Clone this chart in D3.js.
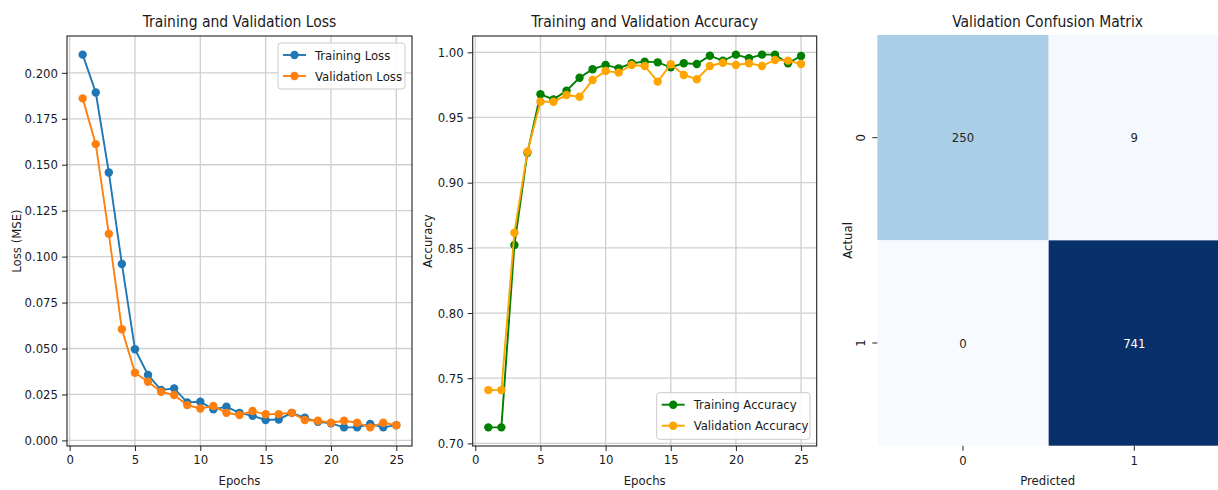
<!DOCTYPE html>
<html>
<head>
<meta charset="utf-8">
<script src="https://cdn.jsdelivr.net/npm/d3@7"></script>
<style>
  html, body { margin: 0; padding: 0; background: #ffffff; }
  svg { display: block; }
  text { font-family: 'DejaVu Sans Condensed', 'DejaVu Sans', sans-serif; fill: #1a1a1a; }
</style>
</head>
<body>
<svg id="chart" width="1218" height="490"></svg>
<script>
// ---------- data ----------
const epochs = [1,2,3,4,5,6,7,8,9,10,11,12,13,14,15,16,17,18,19,20,21,22,23,24,25];

const trainLoss = [0.2099, 0.1893, 0.1458, 0.0960, 0.0496, 0.0356, 0.0274, 0.0283, 0.0207, 0.0210,
                   0.0169, 0.0183, 0.0150, 0.0134, 0.0111, 0.0114, 0.0150, 0.0123, 0.0101, 0.0093,
                   0.0071, 0.0071, 0.0089, 0.0071, 0.0083];
const valLoss   = [0.1861, 0.1612, 0.1124, 0.0605, 0.0368, 0.0319, 0.0265, 0.0247, 0.0192, 0.0174,
                   0.0187, 0.0150, 0.0138, 0.0160, 0.0142, 0.0143, 0.0150, 0.0111, 0.0107, 0.0096,
                   0.0107, 0.0096, 0.0071, 0.0096, 0.0083];

const trainAcc  = [0.7123, 0.7123, 0.8522, 0.9230, 0.9678, 0.9639, 0.9705, 0.9805, 0.9870, 0.9903,
                   0.9877, 0.9916, 0.9928, 0.9923, 0.9885, 0.9916, 0.9910, 0.9974, 0.9935, 0.9982,
                   0.9954, 0.9982, 0.9982, 0.9916, 0.9972];
const valAcc    = [0.7409, 0.7409, 0.8616, 0.9237, 0.9621, 0.9621, 0.9672, 0.9659, 0.9787, 0.9857,
                   0.9844, 0.9903, 0.9895, 0.9775, 0.9908, 0.9826, 0.9793, 0.9895, 0.9920, 0.9903,
                   0.9916, 0.9895, 0.9941, 0.9936, 0.9910];

const epochTicks = [0, 5, 10, 15, 20, 25];
const lossTicks = [0.000, 0.025, 0.050, 0.075, 0.100, 0.125, 0.150, 0.175, 0.200];
const accTicks = [0.70, 0.75, 0.80, 0.85, 0.90, 0.95, 1.00];

const cmLabels = ["0", "1"];
const cmValues = [[250, 9], [0, 741]];

// ---------- drawing ----------
const svg = d3.select("#chart");
const GRID = "#cfcfcf";
const FONT = "'DejaVu Sans Condensed','DejaVu Sans',sans-serif";

function margined(arrs) {
  const all = arrs.flat();
  const lo = d3.min(all), hi = d3.max(all);
  const m = (hi - lo) * 0.05;
  return [lo - m, hi + m];
}

function linePanel(cfg) {
  const x = d3.scaleLinear().domain(margined([epochs])).range([cfg.left, cfg.right]);
  const y = d3.scaleLinear().domain(margined(cfg.series.map(s => s.values))).range([cfg.bottom, cfg.top]);
  const g = svg.append("g");

  // grid
  g.append("g").selectAll("line").data(cfg.xTicks).join("line")
    .attr("x1", d => x(d)).attr("x2", d => x(d))
    .attr("y1", cfg.top).attr("y2", cfg.bottom)
    .attr("stroke", GRID).attr("stroke-width", 1.3);
  g.append("g").selectAll("line").data(cfg.yTicks).join("line")
    .attr("x1", cfg.left).attr("x2", cfg.right)
    .attr("y1", d => y(d)).attr("y2", d => y(d))
    .attr("stroke", GRID).attr("stroke-width", 1.3);

  // axes
  const xAxis = d3.axisBottom(x).tickValues(cfg.xTicks).tickFormat(d3.format("d")).tickSize(5).tickPadding(4);
  const yAxis = d3.axisLeft(y).tickValues(cfg.yTicks).tickFormat(d3.format(cfg.yFmt)).tickSize(5).tickPadding(4);
  const gx = g.append("g").attr("transform", `translate(0,${cfg.bottom})`).call(xAxis);
  const gy = g.append("g").attr("transform", `translate(${cfg.left},0)`).call(yAxis);
  [gx, gy].forEach(a => {
    a.select(".domain").remove();
    a.selectAll(".tick line").attr("stroke", "#222").attr("stroke-width", 1);
    a.selectAll(".tick text").attr("font-size", 13).attr("fill", "#1a1a1a")
      .style("font-family", FONT);
  });
  gx.selectAll(".tick text").attr("dy", "0.71em").attr("y", 9);

  // series
  cfg.series.forEach(s => {
    const pts = epochs.map((e, i) => [e, s.values[i]]);
    g.append("path").datum(pts)
      .attr("fill", "none").attr("stroke", s.color).attr("stroke-width", 1.9)
      .attr("d", d3.line().x(d => x(d[0])).y(d => y(d[1])));
    g.append("g").selectAll("circle").data(pts).join("circle")
      .attr("cx", d => x(d[0])).attr("cy", d => y(d[1])).attr("r", 4.2)
      .attr("fill", s.color);
  });

  // frame
  g.append("rect").attr("x", cfg.left).attr("y", cfg.top)
    .attr("width", cfg.right - cfg.left).attr("height", cfg.bottom - cfg.top)
    .attr("fill", "none").attr("stroke", "#222").attr("stroke-width", 1.1);

  // title & labels
  g.append("text").attr("x", (cfg.left + cfg.right) / 2).attr("y", 27)
    .attr("text-anchor", "middle").attr("font-size", 15.5).text(cfg.title);
  g.append("text").attr("x", (cfg.left + cfg.right) / 2).attr("y", 485)
    .attr("text-anchor", "middle").attr("font-size", 13).text("Epochs");
  g.append("text").attr("transform", `translate(${cfg.yLabelX},${(cfg.top + cfg.bottom) / 2}) rotate(-90)`)
    .attr("text-anchor", "middle").attr("font-size", 13).text(cfg.yLabel);

  // legend
  const L = cfg.legend;
  const lg = g.append("g");
  lg.append("rect").attr("x", L.x).attr("y", L.y).attr("width", L.w).attr("height", L.h)
    .attr("rx", 3).attr("fill", "white").attr("fill-opacity", 0.85)
    .attr("stroke", "#cccccc").attr("stroke-width", 1);
  cfg.series.forEach((s, i) => {
    const ry = L.y + 12 + i * 21;
    lg.append("line").attr("x1", L.x + 5).attr("x2", L.x + 28).attr("y1", ry).attr("y2", ry)
      .attr("stroke", s.color).attr("stroke-width", 1.9);
    lg.append("circle").attr("cx", L.x + 16.5).attr("cy", ry).attr("r", 4.2).attr("fill", s.color);
    lg.append("text").attr("x", L.x + 37).attr("y", ry).attr("dy", "0.35em")
      .attr("font-size", 13).text(s.name);
  });
}

linePanel({
  left: 67, right: 412, top: 36, bottom: 446,
  title: "Training and Validation Loss", yLabel: "Loss (MSE)", yLabelX: 21,
  xTicks: epochTicks, yTicks: lossTicks, yFmt: ".3f",
  series: [
    { name: "Training Loss", values: trainLoss, color: "#1f77b4" },
    { name: "Validation Loss", values: valLoss, color: "#ff7f0e" }
  ],
  legend: { x: 278, y: 43, w: 127, h: 46 }
});

linePanel({
  left: 472.7, right: 816.7, top: 36, bottom: 446,
  title: "Training and Validation Accuracy", yLabel: "Accuracy", yLabelX: 432,
  xTicks: epochTicks, yTicks: accTicks, yFmt: ".2f",
  series: [
    { name: "Training Accuracy", values: trainAcc, color: "#008000" },
    { name: "Validation Accuracy", values: valAcc, color: "#ffa500" }
  ],
  legend: { x: 656.7, y: 392.7, w: 153.3, h: 46.6 }
});

// ---------- confusion matrix ----------
(function () {
  const left = 877.3, right = 1220, top = 35, bottom = 445.7;
  const x = d3.scaleBand().domain(cmLabels).range([left, right]);
  const y = d3.scaleBand().domain(cmLabels).range([top, bottom]);
  const flat = [];
  cmValues.forEach((row, i) => row.forEach((v, j) => flat.push({ r: cmLabels[i], c: cmLabels[j], v })));
  const vmax = d3.max(flat, d => d.v), vmin = d3.min(flat, d => d.v);
  const color = d3.scaleSequential(d3.interpolateBlues).domain([vmin, vmax]);
  const g = svg.append("g");
  g.selectAll("rect").data(flat).join("rect")
    .attr("x", d => x(d.c)).attr("y", d => y(d.r))
    .attr("width", x.bandwidth()).attr("height", y.bandwidth())
    .attr("fill", d => color(d.v));
  g.selectAll("text.ann").data(flat).join("text").attr("class", "ann")
    .attr("x", d => x(d.c) + x.bandwidth() / 2).attr("y", d => y(d.r) + y.bandwidth() / 2)
    .attr("dy", "0.35em").attr("text-anchor", "middle").attr("font-size", 13)
    .style("fill", d => (d.v - vmin) / (vmax - vmin) > 0.6 ? "#ffffff" : "#262626")
    .text(d => d.v);

  const xAxis = d3.axisBottom(x).tickSize(5).tickPadding(4);
  const gx = g.append("g").attr("transform", `translate(0,${bottom})`).call(xAxis);
  gx.select(".domain").remove();
  gx.selectAll(".tick line").attr("stroke", "#222");
  gx.selectAll(".tick text").attr("font-size", 13).attr("dy", "0.71em").attr("y", 10).attr("fill", "#1a1a1a")
    .style("font-family", FONT);

  const yAxis = d3.axisLeft(y).tickSize(5).tickFormat(() => "");
  const gy = g.append("g").attr("transform", `translate(${left},0)`).call(yAxis);
  gy.select(".domain").remove();
  gy.selectAll(".tick line").attr("stroke", "#222");
  g.selectAll("text.ytk").data(cmLabels).join("text").attr("class", "ytk")
    .attr("transform", d => `translate(865,${y(d) + y.bandwidth() / 2}) rotate(-90)`)
    .attr("text-anchor", "middle").attr("font-size", 13).text(d => d);

  g.append("text").attr("x", (left + right) / 2 - 1).attr("y", 27)
    .attr("text-anchor", "middle").attr("font-size", 15.5).text("Validation Confusion Matrix");
  g.append("text").attr("x", (left + right) / 2 - 1).attr("y", 485)
    .attr("text-anchor", "middle").attr("font-size", 13).text("Predicted");
  g.append("text").attr("transform", `translate(852,${(top + bottom) / 2}) rotate(-90)`)
    .attr("text-anchor", "middle").attr("font-size", 13).text("Actual");
})();
</script>
</body>
</html>
